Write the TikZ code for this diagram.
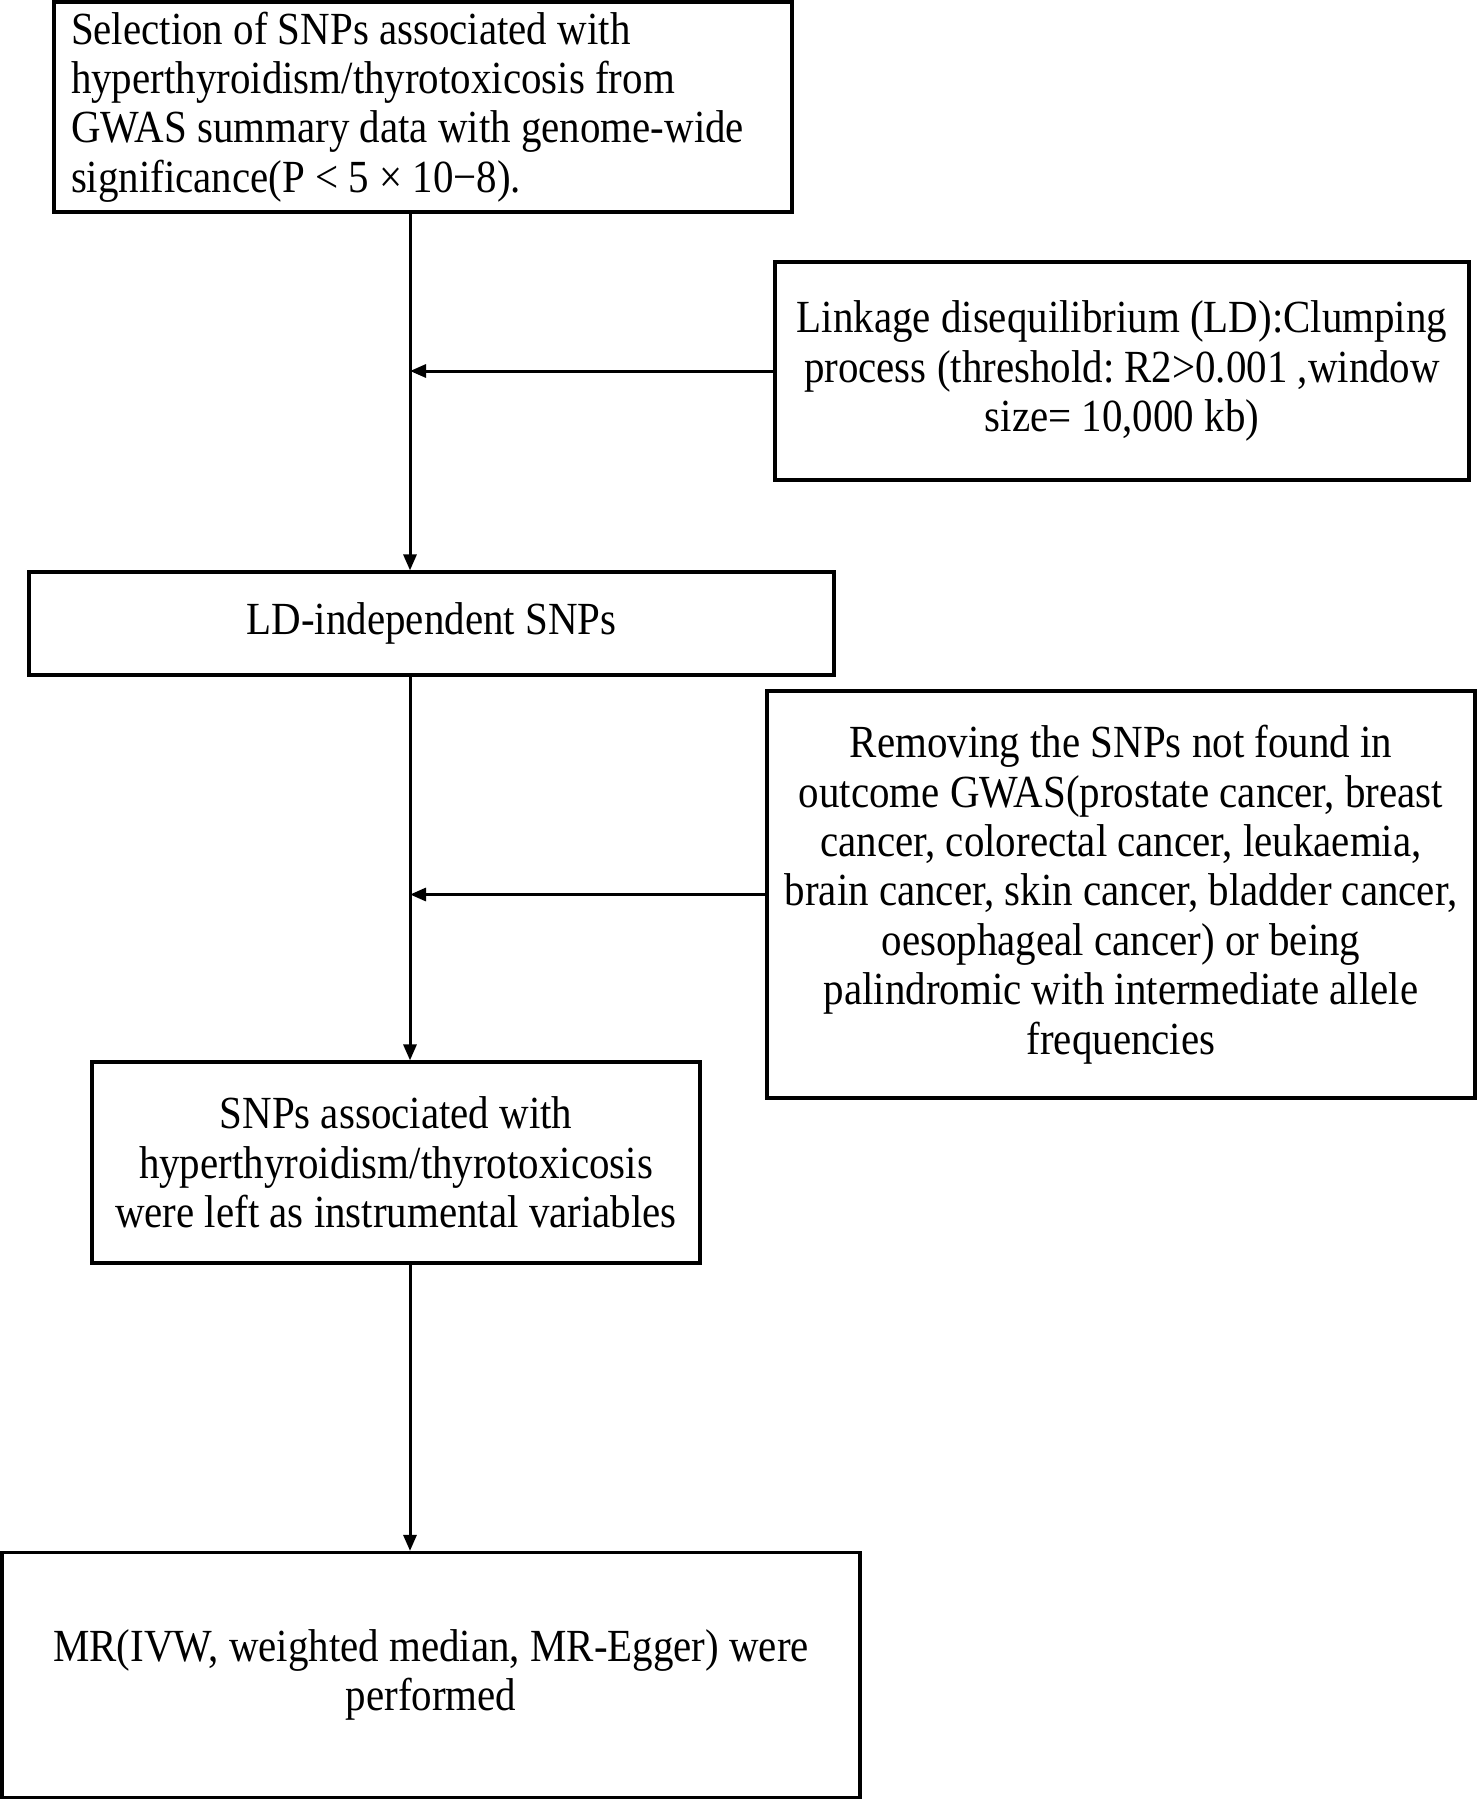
\documentclass[tikz,border=0pt]{standalone}
\usepackage{fontspec}
\setmainfont{Liberation Serif}[FakeStretch=0.89]
\usetikzlibrary{arrows.meta}
\frenchspacing
\begin{document}
\begin{tikzpicture}[x=1pt,y=-1pt,
  box/.style={draw=black, line width=3.2pt, inner sep=0pt, font=\fontsize{46}{49.4}\selectfont\frenchspacing},
  conn/.style={line width=3pt, -{Triangle[length=16pt,width=13pt]}}]
\useasboundingbox (0,0) rectangle (1476,1800);
\fill[white] (0,0) rectangle (1476,1800);
\coordinate (mx) at (410,0);
\node[box, minimum width=738pt, minimum height=210pt, text width=704pt, align=flush left] (b1) at (423,107)
 {Selection of SNPs associated with\\hyperthyroidism/thyrotoxicosis from\\GWAS summary data with genome-wide\\significance(P < 5 × 10−8).};
\node[box, minimum width=694pt, minimum height=218pt, align=center] (ld) at (1122,371)
 {Linkage disequilibrium (LD):Clumping\\process (threshold: R2>0.001 ,window\\size= 10,000 kb)};
\node[box, minimum width=805pt, minimum height=103pt, align=center] (b2) at (431.5,623.5)
 {LD-independent SNPs};
\node[box, minimum width=708pt, minimum height=407pt, align=center] (rm) at (1121,894.5)
 {Removing the SNPs not found in\\outcome GWAS(prostate cancer, breast\\cancer, colorectal cancer, leukaemia,\\brain cancer, skin cancer, bladder cancer,\\oesophageal cancer) or being\\palindromic with intermediate allele\\frequencies};
\node[box, minimum width=608pt, minimum height=201pt, align=center] (b3) at (396,1162.5)
 {SNPs associated with\\hyperthyroidism/thyrotoxicosis\\were left as instrumental variables};
\node[box, minimum width=858pt, minimum height=245pt, align=center] (b4) at (431,1675)
 {MR(IVW, weighted median, MR-Egger) were\\performed};
\draw[conn] (b1.south -| mx) -- (b2.north -| mx);
\draw[conn] (b2.south -| mx) -- (b3.north -| mx);
\draw[conn] (b3.south -| mx) -- (b4.north -| mx);
\draw[conn] (ld.west) -- (ld.west -| mx);
\draw[conn] (rm.west) -- (rm.west -| mx);
\end{tikzpicture}
\end{document}
